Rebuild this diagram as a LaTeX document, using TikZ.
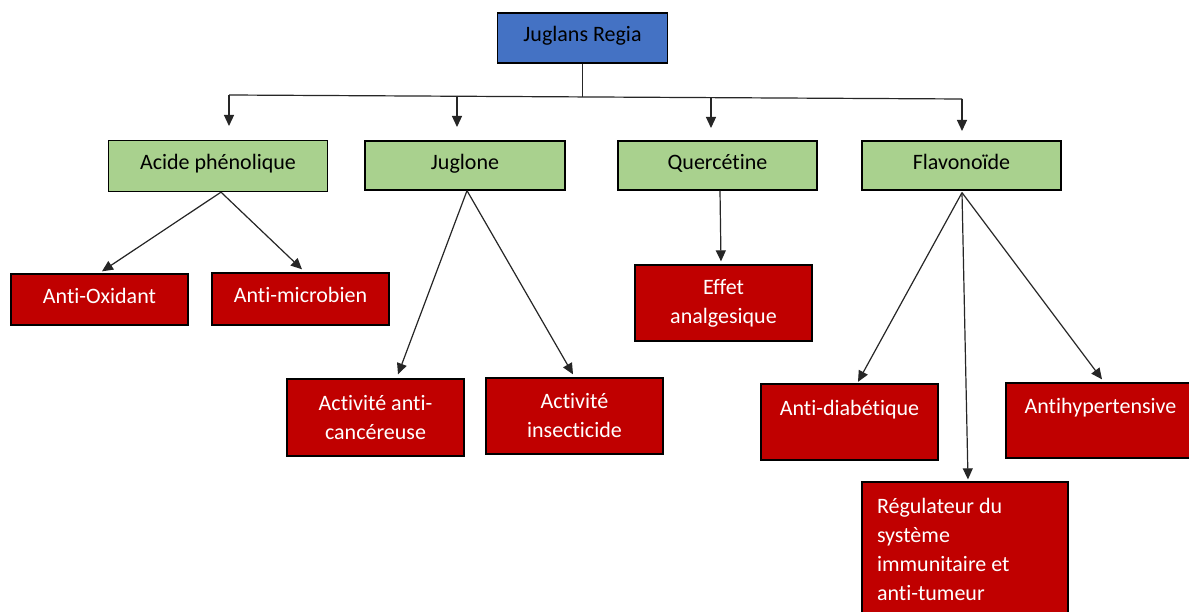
\documentclass[tikz,border=0pt]{standalone}
\usepackage{fontspec}
\setmainfont{Carlito}[Ligatures={NoCommon,NoRare,NoContextual},RawFeature={-liga;-dlig;-clig}]
\usetikzlibrary{arrows.meta,calc}
\definecolor{topblue}{HTML}{4472C4}
\definecolor{leafgreen}{HTML}{A9D18E}
\definecolor{effred}{HTML}{C00000}
\tikzset{
  box/.style={draw=black, line width=1.3pt, inner sep=0pt, align=center,
    font=\fontsize{22}{29}\selectfont},
  oneline/.style={text height=16pt, text depth=8pt},
  topbox/.style={box, oneline, fill=topblue, text=black},
  chem/.style={box, oneline, fill=leafgreen, text=black},
  effect/.style={box, fill=effred, text=white},
  link/.style={draw=black!85, line width=1.2pt},
  arr/.style={link, -{Triangle[length=11pt,width=10pt]}}
}
\begin{document}
\begin{tikzpicture}[x=1pt,y=-1pt]
\useasboundingbox (0,0) rectangle (1189,612);
\fill[white] (0,0) rectangle (1189,612);

% top
\node[topbox, minimum width=170pt, minimum height=50pt] (top) at (582.5,38) {Juglans Regia};

% compounds
\node[chem, minimum width=219pt, minimum height=51pt] (acide) at (218,166) {Acide phénolique};
\node[chem, minimum width=200pt, minimum height=49pt] (juglone) at (465,165.5) {Juglone};
\node[chem, minimum width=199pt, minimum height=49pt] (querc) at (717.5,165.5) {Quercétine};
\node[chem, minimum width=199pt, minimum height=49pt] (flavo) at (961.5,165.5) {Flavonoïde};

% effects
\node[effect, oneline, minimum width=177pt, minimum height=51pt] (antiox) at (99.5,299.5) {Anti-Oxidant};
\node[effect, oneline, minimum width=177pt, minimum height=52pt] (antimic) at (300.5,299) {Anti-microbien};
\node[effect, minimum width=177pt, minimum height=76pt] (effet) at (723.5,303) {Effet\\analgesique};
\node[effect, minimum width=177pt, minimum height=77pt] (canc) at (375.5,417.5) {Activité anti-\\cancéreuse};
\node[effect, minimum width=177pt, minimum height=76pt] (insect) at (574.5,416) {Activité\\insecticide};
\node[effect, minimum width=177pt, minimum height=76pt] (diab) at (849.5,422) {Anti-diabétique\\\mbox{}};
\node[effect, minimum width=189pt, minimum height=75pt] (hyper) at (1100.5,420.5) {Antihypertensive\\\mbox{}};
\node[effect, minimum width=206pt, minimum height=134pt, text width=176pt, align=flush left] (regul) at (965,549)
  {Régulateur du\\système\\immunitaire et\\anti-tumeur};

% bus
\coordinate (busL) at (229,95);
\coordinate (busJ) at (457,96);
\coordinate (busM) at (582.5,97);
\coordinate (busQ) at (711,98);
\coordinate (busR) at (962,99);
\coordinate (tA) at (229,126);
\coordinate (tJ) at (457,127);
\coordinate (tQ) at (711,128);
\coordinate (tF) at (962,131);

\draw[link] (top.south) -- (busM);
\draw[link] (busL) -- (busR);
\draw[arr] (busL) -- (tA);
\draw[arr] (busJ) -- (tJ);
\draw[arr] (busQ) -- (tQ);
\draw[arr] (busR) -- (tF);

% children
\draw[arr] ([xshift=3pt]acide.south) -- ([xshift=2.5pt,yshift=2pt]antiox.north);
\draw[arr] ([xshift=3pt]acide.south) -- ([xshift=1.5pt,yshift=3pt]antimic.north);
\draw[arr] ([xshift=2pt]juglone.south) -- ([xshift=22.5pt,yshift=4pt]canc.north);
\draw[arr] ([xshift=2pt]juglone.south) -- ([xshift=-1.5pt,yshift=3pt]insect.north);
\draw[arr] ([xshift=2.5pt]querc.south) -- ([xshift=-2.5pt,yshift=3pt]effet.north);
\draw[arr] ([xshift=0.5pt,yshift=-2pt]flavo.south) -- ([xshift=8.5pt,yshift=1.5pt]diab.north);
\draw[arr] ([xshift=0.5pt,yshift=-2pt]flavo.south) -- ([xshift=3pt,yshift=2pt]regul.north);
\draw[arr] ([xshift=0.5pt,yshift=-2pt]flavo.south) -- ([xshift=1.5pt,yshift=3pt]hyper.north);
\end{tikzpicture}
\end{document}
